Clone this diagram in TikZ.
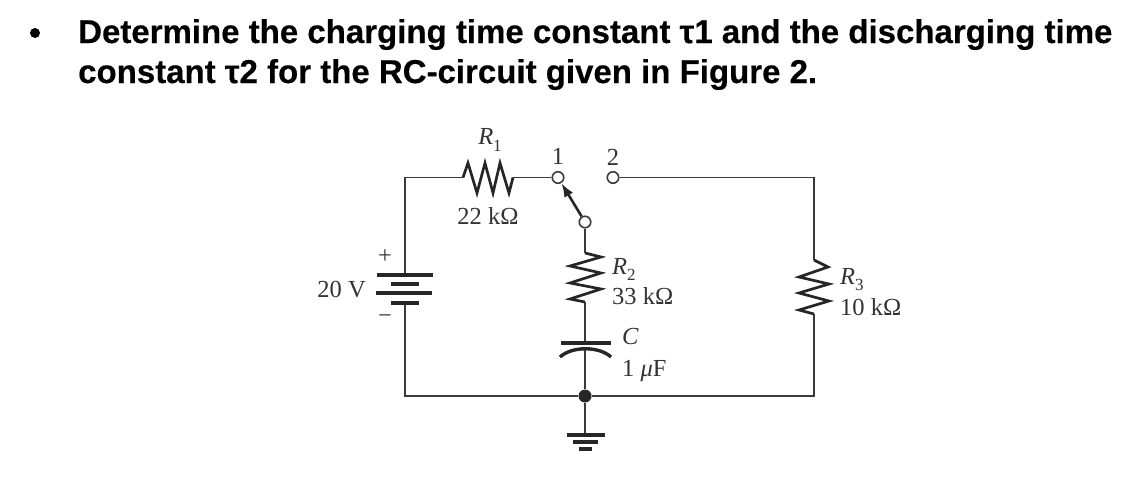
\documentclass[tikz,border=0pt]{standalone}
\usepackage{fontspec}
\setmainfont{Liberation Serif}
\newfontfamily\headfont{Liberation Sans}[BoldFont={Liberation Sans Bold},BoldFeatures={FakeBold=0.35}]
\usetikzlibrary{arrows.meta}
\definecolor{wirecol}{HTML}{3A3A3A}
\definecolor{inkcol}{HTML}{333333}
\newcommand{\subsc}[1]{\raisebox{-0.28em}{\fontsize{17}{17}\selectfont #1}}
\tikzset{
  wire/.style={draw=wirecol,line width=1.8pt,line join=miter},
  zig/.style={draw=black!85,line width=2.7pt,line join=miter},
  plate/.style={draw=black!85,line width=4pt},
  lbl/.style={inner sep=0pt,text=inkcol,font=\fontsize{24.5}{28}\selectfont},
  term/.style={circle,draw=wirecol,line width=1.6pt,fill=white,minimum size=11.5pt,inner sep=0pt},
  head/.style={inner sep=0pt,anchor=base west,font=\headfont\bfseries\fontsize{33}{38}\selectfont},
}
\begin{document}
\begin{tikzpicture}[x=1pt,y=-1pt]
\useasboundingbox[fill=white] (0,0) rectangle (1141,479);
% heading
\fill[black] (35,33) circle (5);
\node[head] at (78,43) {Determine the charging time constant τ1 and the discharging time};
\node[head] at (78,83) {constant τ2 for the RC-circuit given in Figure 2.};
% anchor points
\coordinate (tl) at (405,177.5);
\coordinate (bl) at (405,396);
\coordinate (tr) at (814,177.5);
\coordinate (br) at (814,396);
\coordinate (r1a) at (463,177.5);
\coordinate (r1b) at (513,177.5);
\coordinate (r2a) at (585,253);
\coordinate (r2b) at (585,302);
\coordinate (r3a) at (814,260);
\coordinate (r3b) at (814,314);
\coordinate (cat) at (585,343);
\coordinate (cbt) at (585,348);
\coordinate (gnd) at (585,434);
\coordinate (batp) at (405,275);
\coordinate (batn) at (405,303);
% wires
\node[term] (t1) at (558,177.5) {};
\node[term] (t2) at (613,177.5) {};
\node[term] (pole) at (585,222) {};
\node[circle,fill=black!85,minimum size=13pt,inner sep=0pt] (junc) at (585,396) {};
\draw[wire] (batp) -- (tl) -- (r1a);
\draw[wire] (r1b) -- (t1);
\draw[wire] (t2) -- (tr) -- (r3a);
\draw[wire] (r3b) -- (br) -- (junc);
\draw[wire] (junc) -- (bl) -- (batn);
\draw[wire] (pole) -- (r2a);
\draw[wire] (r2b) -- (cat);
\draw[wire] (cbt) -- (junc);
\draw[wire] (junc) -- (gnd);
% switch blade
\draw[draw=black!85,line width=2.6pt,-{Latex[length=14pt,width=10pt]}] (pole) -- (t1);
% resistors
\draw[zig] (r1a) -- (468,163) -- (477,193) -- (485,163) -- (493,193) -- (500,163) -- (509,193) -- (r1b);
\draw[zig] (r2a) -- (601,257) -- (570,266) -- (601,273) -- (570,283) -- (601,289) -- (570,299) -- (r2b);
\draw[zig] (r3a) -- (828,267) -- (799,277) -- (829,284) -- (799,293) -- (829,301) -- (799,310) -- (r3b);
% battery
\draw[plate] (377,275) -- (433,275);
\draw[plate] (391,284) -- (419,284);
\draw[plate] (376,293) -- (432,293);
\draw[plate] (391,303) -- (419,303);
% capacitor
\draw[plate,line width=3.4pt] (561,343) -- (611,343);
\draw[plate,line width=3.4pt] (560,357) .. controls (572,346) and (599,346) .. (611,357);
% ground
\draw[plate] (567,434.5) -- (605,434.5);
\draw[plate] (573,442) -- (598,442);
\draw[plate] (579,449) -- (592,449);
% labels
\node[lbl] (lr1) at (490,140) {\textit{R}\subsc{1}};
\node[lbl] (lv1) at (488,216) {22 kΩ};
\node[lbl] (ln1) at (558,156) {1};
\node[lbl] (ln2) at (613,157) {2};
\node[lbl,anchor=base west] (lr2) at (612,274) {\textit{R}\subsc{2}};
\node[lbl,anchor=base west] (lv2) at (612,304) {33 kΩ};
\node[lbl,anchor=base west] (lc) at (622,344) {\textit{C}};
\node[lbl,anchor=base west] (lcv) at (622,376) {1 \textit{μ}F};
\node[lbl,anchor=base west] (lr3) at (840,284) {\textit{R}\subsc{3}};
\node[lbl,anchor=base west] (lv3) at (840,315) {10 kΩ};
\node[lbl,anchor=base east] (lbat) at (366,297) {20 V};
\node[lbl] (lp) at (385,257) {+};
\node[lbl] (lm) at (385,319) {−};
\end{tikzpicture}
\end{document}
